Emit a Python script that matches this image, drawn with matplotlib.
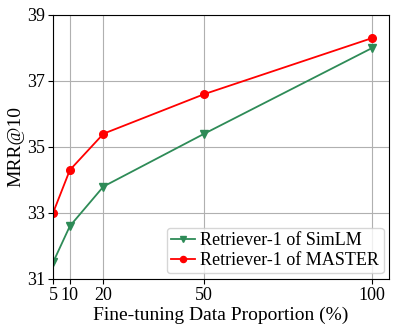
import matplotlib
matplotlib.use('Agg')
import matplotlib.pyplot as plt

plt.rcParams['font.family'] = ['Liberation Serif', 'DejaVu Serif']

proportions = [5, 10, 20, 50, 100]
simlm_mrr = [31.5, 32.6, 33.8, 35.4, 38.0]
master_mrr = [33.0, 34.3, 35.4, 36.6, 38.3]

fig = plt.figure(figsize=(3.99, 3.32), dpi=100)
ax = fig.add_axes([0.133, 0.16, 0.842, 0.795])

ax.plot(proportions, simlm_mrr, color='seagreen', marker='v', markersize=5.5,
        linewidth=1.3, label='Retriever-1 of SimLM')
ax.plot(proportions, master_mrr, color='red', marker='o', markersize=5.5,
        linewidth=1.3, label='Retriever-1 of MASTER')

ax.set_xlim(5, 105)
ax.set_ylim(31, 39)
ax.set_xticks(proportions)
ax.set_yticks([31, 33, 35, 37, 39])
ax.tick_params(labelsize=13, pad=2)
ax.grid(True, color='#b0b0b0', linewidth=0.8)
ax.set_xlabel('Fine-tuning Data Proportion (%)', fontsize=14, labelpad=2)
ax.set_ylabel('MRR@10', fontsize=14, labelpad=2)
ax.legend(loc='lower right', fontsize=13, handlelength=1.3, borderpad=0.25,
          labelspacing=0.15, handletextpad=0.3, borderaxespad=0.3,
          markerscale=0.8)

fig.savefig('out.png', dpi=100)
